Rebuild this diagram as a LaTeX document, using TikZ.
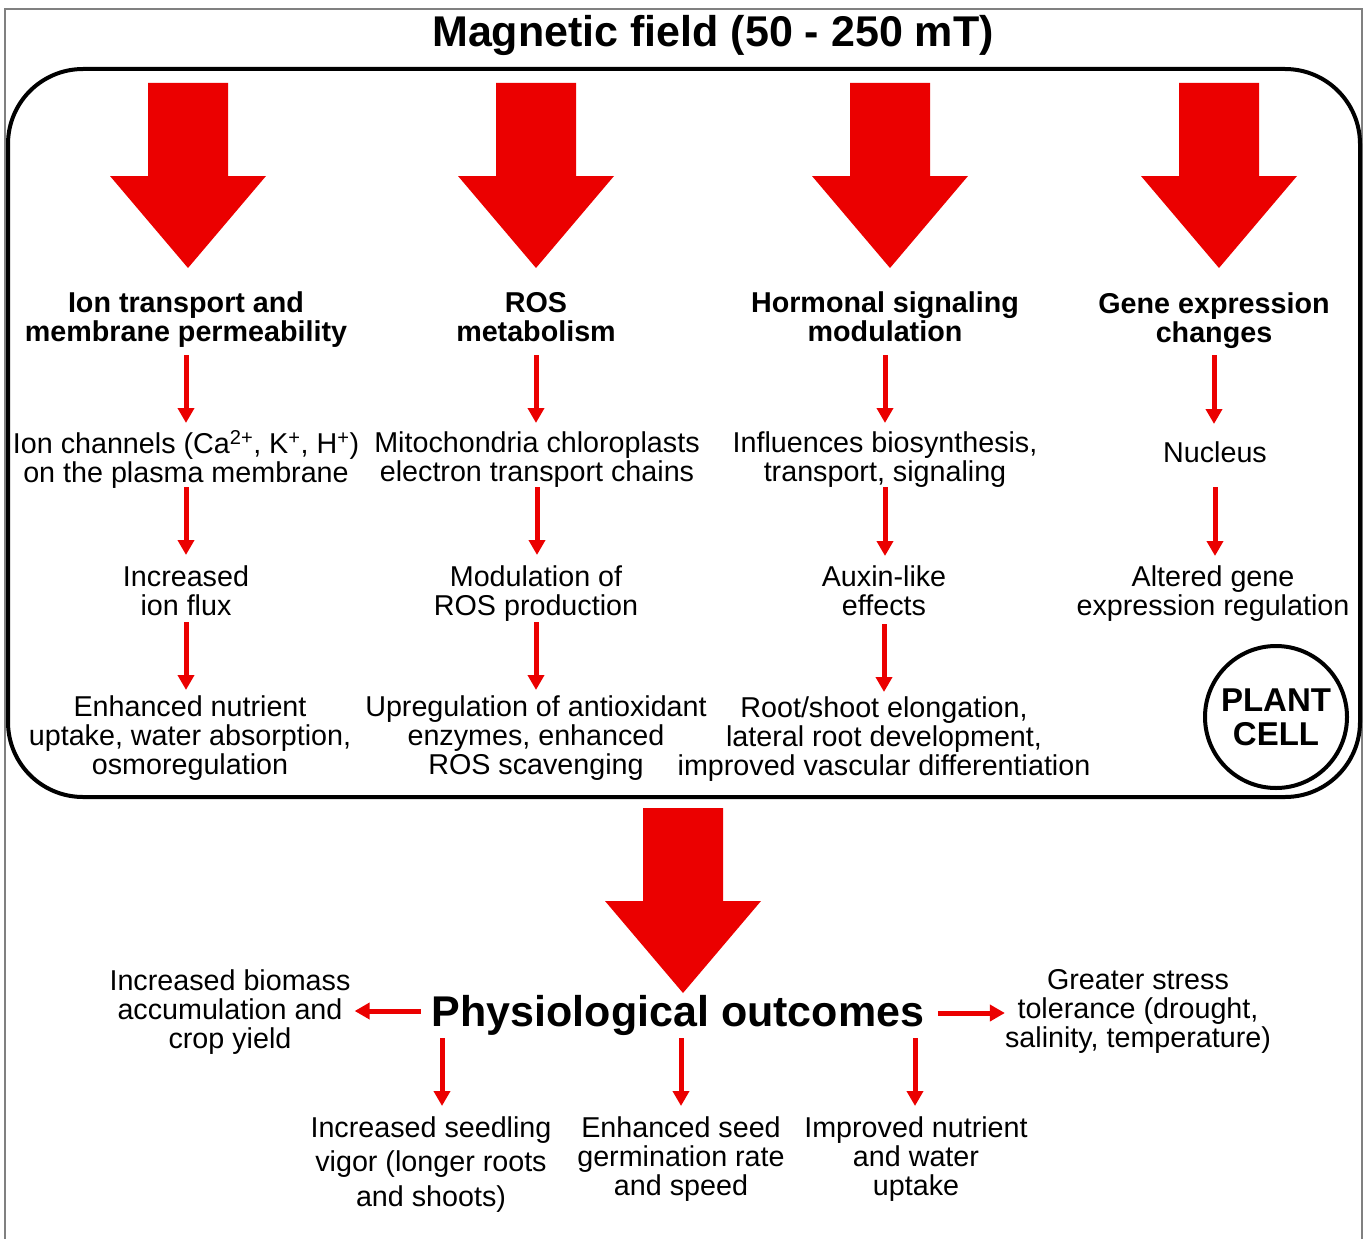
\documentclass[tikz,border=0pt]{standalone}
\usepackage{fontspec}
\setmainfont{Liberation Sans}
\usetikzlibrary{arrows.meta}
\definecolor{arrowred}{RGB}{235,0,0}
\newcommand{\txtfont}{\fontsize{28.7}{29}\selectfont}

\begin{document}
\begin{tikzpicture}[x=1pt, y=-1pt,
    every node/.style={inner sep=0pt, align=center, font=\txtfont},
    head/.style={font=\txtfont\bfseries},
    flow/.style={draw=arrowred, line width=5pt, -{Triangle[width=16pt,length=15pt]}},
    bigdown/.pic={\fill[arrowred] (-40,0) -- (40,0) -- (40,93) -- (78,93) -- (0,185)
        -- (-78,93) -- (-40,93) -- cycle;}]
    \useasboundingbox (0,0) rectangle (1366,1239);

    % Frame and cell outline
    \draw[gray, line width=1.5pt] (5,1239) -- (5,9) -- (1362,9) -- (1362,1239);
    \draw[line width=4pt, rounded corners=75pt] (8,69) rectangle (1360,797);

    \node[font=\fontsize{43}{45}\selectfont\bfseries] (title) at (713,35) {Magnetic field (50 - 250 mT)};

    % Big arrows
    \foreach \cx in {188,536,890,1219}
        \pic at (\cx,83) {bigdown};
    \pic at (683,808) {bigdown};

    % Headings
    \node[head] (h1) at (186,320) {Ion transport and\\membrane permeability};
    \node[head] (h2) at (536,317) {ROS\\metabolism};
    \node[head] (h3) at (885,317) {Hormonal signaling\\modulation};
    \node[head] (h4) at (1214,321) {Gene expression\\changes};

    % Second row
    \node (c1) at (186,459.5) {Ion channels (Ca\textsuperscript{2+}, K\textsuperscript{+}, H\textsuperscript{+})\\on the plasma membrane};
    \node (c2) at (537,459.5) {Mitochondria chloroplasts\\electron transport chains};
    \node (c3) at (885,459.5) {Influences biosynthesis,\\transport, signaling};
    \node (c4) at (1215,452) {Nucleus};

    % Third row
    \node (r1) at (186,590.5) {Increased\\ion flux};
    \node (r2) at (536,593.5) {Modulation of\\ROS production};
    \node (r3) at (884,591) {Auxin-like\\effects};
    \node (r4) at (1213,594) {Altered gene\\expression regulation};

    % Fourth row
    \node (d1) at (190,738) {Enhanced nutrient\\uptake, water absorption,\\osmoregulation};
    \node (d2) at (536,738) {Upregulation of antioxidant\\enzymes, enhanced\\ROS scavenging};
    \node (d3) at (884,739) {Root/shoot elongation,\\lateral root development,\\improved vascular differentiation};

    \node[draw, circle, line width=4pt, minimum size=142pt,
        font=\fontsize{33}{34}\selectfont\bfseries] (cell) at (1276,717) {PLANT\\CELL};

    % Arrows inside the cell
    \draw[flow, shorten <=35pt, shorten >=36.5pt] (h1.center) -- (h1.center |- c1.center);
    \draw[flow, shorten <=38pt, shorten >=36.5pt] (h2.center) -- (h2.center |- c2.center);
    \draw[flow, shorten <=38pt, shorten >=36.5pt] (h3.center) -- (h3.center |- c3.center);
    \draw[flow, shorten <=34pt, shorten >=28pt] (h4.center) -- (h4.center |- c4.center);

    \draw[flow, shorten <=27.5pt, shorten >=35.5pt] (c1.center) -- (c1.center |- r1.center);
    \draw[flow, shorten <=27.5pt, shorten >=38.5pt] (c2.center) -- (c2.center |- r2.center);
    \draw[flow, shorten <=27.5pt, shorten >=35pt] (c3.center) -- (c3.center |- r3.center);
    \draw[flow, shorten <=35pt, shorten >=38pt] (c4.center) -- (c4.center |- r4.center);

    \draw[flow, shorten <=31.5pt, shorten >=48pt] (r1.center) -- (r1.center |- d1.center);
    \draw[flow, shorten <=28.5pt, shorten >=48pt] (r2.center) -- (r2.center |- d2.center);
    \draw[flow, shorten <=33pt, shorten >=47pt] (r3.center) -- (r3.center |- d3.center);

    % Outcomes
    \node[font=\fontsize{43}{45}\selectfont\bfseries] (po) at (678,1015) {Physiological outcomes};
    \node (bio) at (230,1012) {Increased biomass\\accumulation and\\crop yield};
    \node (stress) at (1138,1011) {Greater stress\\tolerance (drought,\\salinity, temperature)};
    \node[font=\fontsize{28.7}{34.5}\selectfont] (s1) at (431,1164.5) {Increased seedling\\vigor (longer roots\\and shoots)};
    \node (s2) at (681,1159) {Enhanced seed\\germination rate\\and speed};
    \node (s3) at (916,1159) {Improved nutrient\\and water\\uptake};

    \draw[flow, shorten <=11pt, shorten >=4pt] ([yshift=4pt]po.west) -- ([yshift=4pt]po.west -| bio.east);
    \draw[flow, shorten <=13.5pt] ([yshift=2pt]po.east) -- ([yshift=2pt]po.east -| stress.west);
    \draw[flow, shorten <=23pt, shorten >=58.5pt] ([xshift=-236pt]po.center) -- ([xshift=-236pt]po.center |- s1.center);
    \draw[flow, shorten <=23pt, shorten >=53pt] ([xshift=3pt]po.center) -- ([xshift=3pt]po.center |- s2.center);
    \draw[flow, shorten <=23pt, shorten >=53pt] ([xshift=237pt]po.center) -- ([xshift=237pt]po.center |- s3.center);

\end{tikzpicture}
\end{document}
